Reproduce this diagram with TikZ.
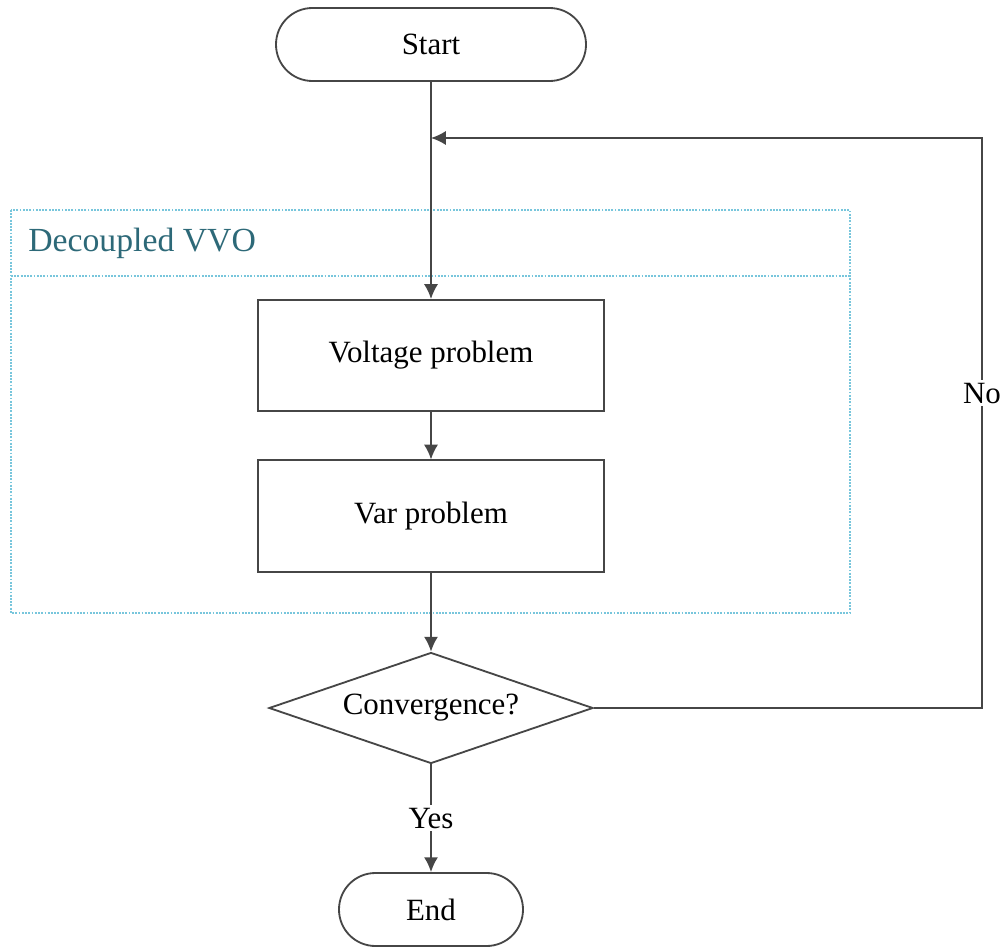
\documentclass[tikz,border=0pt]{standalone}
\usepackage{fontspec}
\setmainfont{Liberation Serif}
\usetikzlibrary{arrows.meta,shapes.geometric}
\definecolor{linegray}{RGB}{70,70,70}
\definecolor{groupblue}{RGB}{120,198,220}
\definecolor{groupteal}{RGB}{45,105,120}
\tikzset{
  line/.style={draw=linegray, line width=1.3pt},
  arr/.style={line, -{Latex[length=10.5pt,width=10pt]}},
  terminal/.style={line, rounded corners=0.91cm, minimum height=1.825cm, inner sep=0pt},
  process/.style={line, minimum width=8.65cm, minimum height=2.78cm, inner sep=0pt},
  decision/.style={line, diamond, aspect=2.92, minimum width=8.1cm, minimum height=2.775cm, inner sep=0pt},
  lbl/.style={fill=white, inner sep=2pt},
}
\begin{document}
\begin{tikzpicture}[font=\fontsize{22}{26}\selectfont, line join=miter]
  \useasboundingbox (0,0) rectangle (25.075,-23.725);
  \def\xc{10.775} \def\xr{24.55} \def\yloop{-3.45}
  % group box
  \draw[groupblue, line width=1.1pt, dash pattern=on 1.3pt off 1pt] (0.275,-5.25) rectangle (21.25,-15.325);
  \draw[groupblue, line width=1.1pt, dash pattern=on 1.3pt off 1pt] (0.275,-6.9) -- (21.25,-6.9);
  \node[anchor=west, text=groupteal, font=\fontsize{24}{28}\selectfont, inner sep=0pt] (grp) at (0.7,-6.075) {Decoupled VVO};
  % nodes
  \node[terminal, minimum width=7.75cm] (start) at (\xc,-1.1125) {Start};
  \node[process] (volt) at (\xc,-8.8875) {Voltage problem};
  \node[process] (var) at (\xc,-12.9) {Var problem};
  \node[decision] (conv) at (\xc,-17.7) {Convergence?};
  \node[terminal, minimum width=4.6cm] (end) at (\xc,-22.7375) {End};
  \coordinate (join) at (\xc,\yloop);
  \coordinate (corner) at (\xr,\yloop);
  % connectors
  \draw[arr] (start) -- (volt);
  \draw[arr] (volt) -- (var);
  \draw[arr] (var) -- (conv);
  \draw[arr] (conv) -- node[lbl, pos=0.5] (yes) {Yes} (end);
  \draw[arr] (conv.east) -| node[lbl, pos=0.776] (no) {No} (corner) -- (join);
\end{tikzpicture}
\end{document}
